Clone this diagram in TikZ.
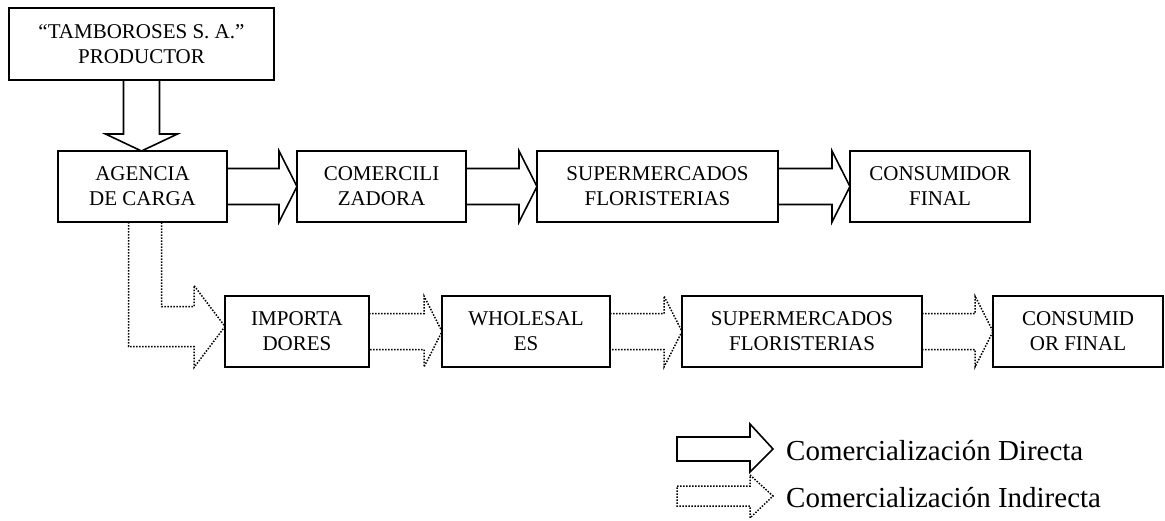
\documentclass[tikz,border=0pt]{standalone}
\usepackage{fontspec}
\setmainfont{Liberation Serif}
\usetikzlibrary{calc}

% block arrow from the east side of #2 to the west side of #3
\newcommand{\flecha}[3][]{%
  \draw[#1] ($(#2.east)+(0,-18)$) -- ($(#3.west)+(-18,-18)$)
    -- ($(#3.north west)+(-18,0)$) -- (#3.west)
    -- ($(#3.south west)+(-18,0)$) -- ($(#3.west)+(-18,18)$)
    -- ($(#2.east)+(0,18)$);}

\begin{document}
\begin{tikzpicture}[x=1pt, y=-1pt]
			\tikzset{caja/.style = {draw, rectangle, line width=1.6pt,
			inner sep=0pt, outer sep=0pt, minimum height=71pt, align=center,
			font=\fontsize{21}{25}\selectfont},
			directa/.style = {line width=1.6pt, line join=miter},
			indirecta/.style = {line width=1.5pt, dash pattern=on 1.5pt off 1.5pt}}
			
			\useasboundingbox (0,0) rectangle (1165,520);
			
			\node[caja, minimum width=265pt, minimum height=72pt] (prod) at (141.5, 44)
			{``TAMBOROSES S. A.''\\PRODUCTOR};
			\node[caja, minimum width=169pt] (agencia) at (142.5, 186.5)
			{AGENCIA\\DE CARGA};
			\node[caja, minimum width=169pt] (comer) at (381.5, 186.5)
			{COMERCILI\\ZADORA};
			\node[caja, minimum width=241pt] (super_a) at (657.5, 186.5)
			{SUPERMERCADOS\\FLORISTERIAS};
			\node[caja, minimum width=180pt] (cons_a) at (940, 186.5)
			{CONSUMIDOR\\FINAL};
			
			\node[caja, minimum width=144pt] (impo) at (297, 331.5)
			{IMPORTA\\DORES};
			\node[caja, minimum width=168pt] (whole) at (526, 331.5)
			{WHOLESAL\\ES};
			\node[caja, minimum width=240pt] (super_b) at (802, 331.5)
			{SUPERMERCADOS\\FLORISTERIAS};
			\node[caja, minimum width=170pt] (cons_b) at (1078, 331.5)
			{CONSUMID\\OR FINAL};
			
			% productor -> agencia
			\draw[directa] ($(prod.south)+(-18,0)$) -- ($(prod.south)+(-18,54)$)
			-- ($(prod.south)+(-36,54)$) -- (prod.south |- agencia.north)
			-- ($(prod.south)+(36,54)$) -- ($(prod.south)+(18,54)$)
			-- ($(prod.south)+(18,0)$);
			
			\flecha[directa]{agencia}{comer}
			\flecha[directa]{comer}{super_a}
			\flecha[directa]{super_a}{cons_a}
			
			% agencia -> importadores
			\coordinate (punta) at ($(impo.west)+(0,-5)$);
			\draw[indirecta] ($(agencia.south)+(-14,0)$) |- ($(punta)+(-31,20)$)
			-- ($(punta)+(-31,41)$) -- (punta) -- ($(punta)+(-31,-41)$)
			-- ($(punta)+(-31,-20)$) -| ($(agencia.south)+(19,0)$);
			
			\flecha[indirecta]{impo}{whole}
			\flecha[indirecta]{whole}{super_b}
			\flecha[indirecta]{super_b}{cons_b}
			
			% leyenda
			\coordinate (ley_d) at (677, 449);
			\coordinate (ley_i) at (677, 496);
			\draw[directa] ($(ley_d)+(0,-12)$) -- ($(ley_d)+(73,-12)$) -- ($(ley_d)+(73,-25)$)
			-- ($(ley_d)+(96,0)$) -- ($(ley_d)+(73,23)$) -- ($(ley_d)+(73,12)$)
			-- ($(ley_d)+(0,12)$) -- cycle;
			\draw[indirecta] ($(ley_i)+(0,-10)$) -- ($(ley_i)+(73,-10)$) -- ($(ley_i)+(73,-21)$)
			-- ($(ley_i)+(96,0)$) -- ($(ley_i)+(73,22)$) -- ($(ley_i)+(73,10)$)
			-- ($(ley_i)+(0,10)$) -- cycle;
			\node[anchor=base west, inner sep=0pt, font=\fontsize{29}{32}\selectfont]
			(txt_d) at (786, 460) {Comercialización Directa};
			\node[anchor=base west, inner sep=0pt, font=\fontsize{29}{32}\selectfont]
			(txt_i) at (786, 507) {Comercialización Indirecta};
		\end{tikzpicture}
\end{document}
